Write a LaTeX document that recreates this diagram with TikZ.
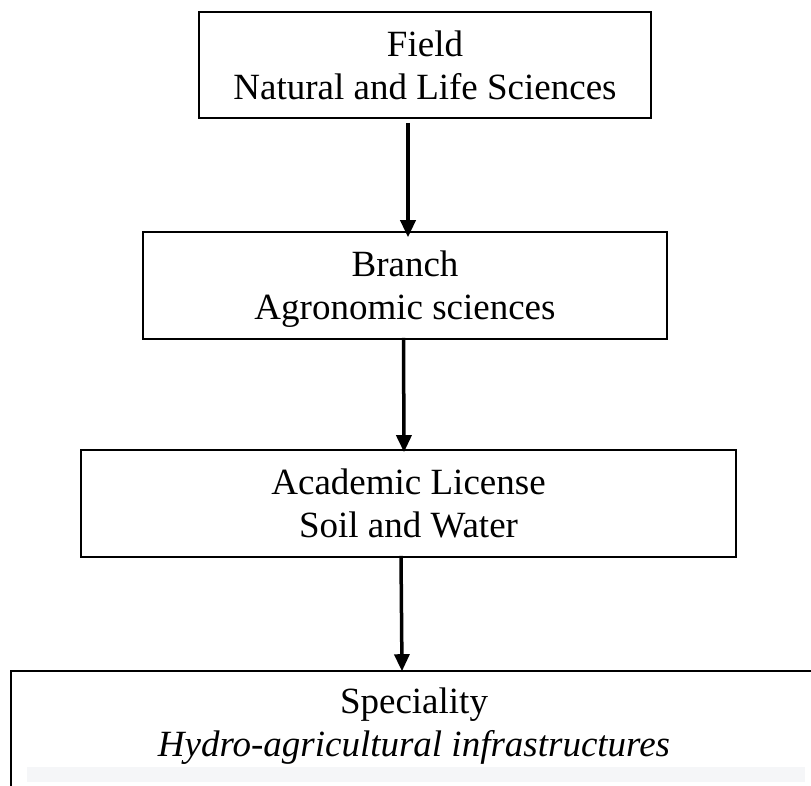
\documentclass[tikz,border=0pt]{standalone}
\usepackage{fontspec}
\setmainfont{Liberation Serif}
\usetikzlibrary{arrows.meta}
\begin{document}
\begin{tikzpicture}[x=1pt,y=-1pt,
  boxnode/.style={draw=black, line width=1.6pt, inner sep=0pt, align=center,
    font=\fontsize{37}{43}\selectfont, text depth=0pt},
  arr/.style={line width=3.5pt, -{Triangle[length=17pt,width=15pt]}}]
\useasboundingbox (0,0) rectangle (811,785);
\clip (0,0) rectangle (811,785);
\fill[fill={rgb,255:red,245;green,246;blue,248}] (27,767) rectangle (805,782);
\node[boxnode, minimum width=452pt, minimum height=106pt] (field) at (425,65)
  {Field\\Natural and Life Sciences};
\node[boxnode, minimum width=524pt, minimum height=107pt] (branch) at (405,285.5)
  {Branch\\Agronomic sciences};
\node[boxnode, minimum width=655pt, minimum height=107pt] (license) at (408.5,503.5)
  {Academic License\\Soil and Water};
\node[boxnode, minimum width=806pt, minimum height=123pt, text depth=20pt] (spec) at (414,732.5)
  {Speciality\\\textit{Hydro-agricultural infrastructures}};
\draw[arr] ([xshift=-17pt,yshift=-4pt]field.south) -- ([xshift=3pt,yshift=-6pt]branch.north);
\draw[arr] ([xshift=-1.5pt,yshift=2pt]branch.south) -- ([xshift=-4.5pt,yshift=-3pt]license.north);
\draw[arr] ([xshift=-7.5pt,yshift=2pt]license.south) -- ([xshift=-12pt,yshift=-1pt]spec.north);
\end{tikzpicture}
\end{document}
